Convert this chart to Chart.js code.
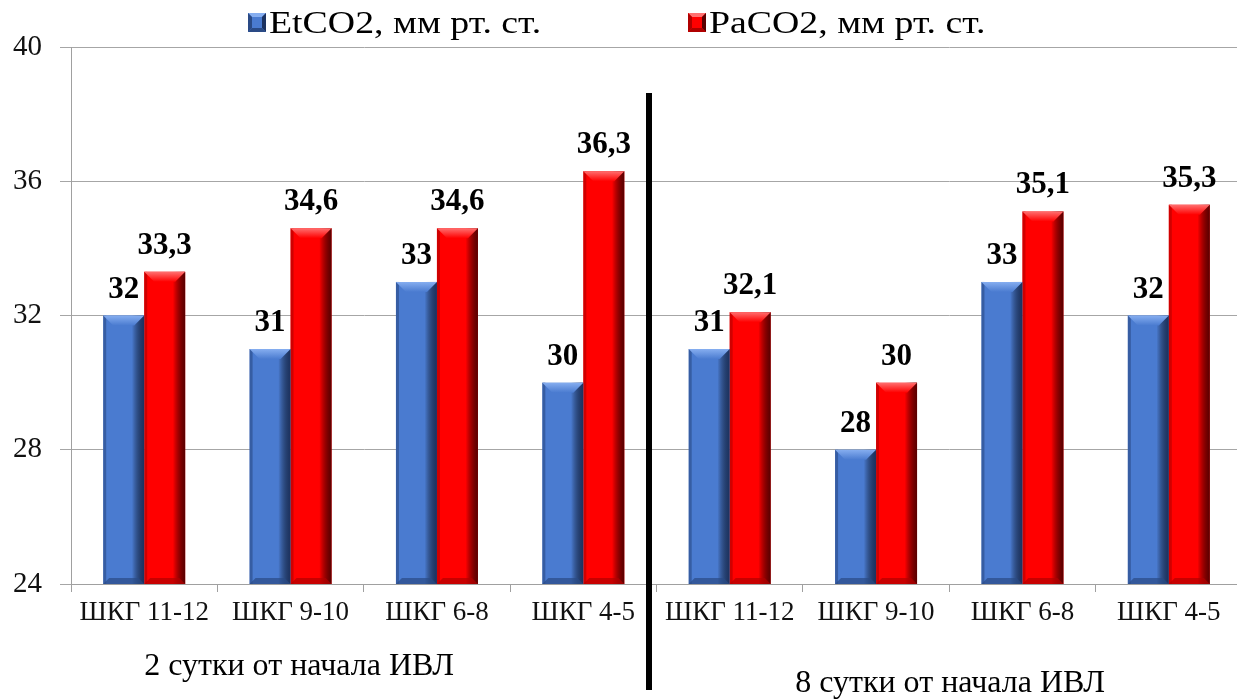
<!DOCTYPE html>
<html>
<head>
<meta charset="utf-8">
<script src="https://cdn.jsdelivr.net/npm/chart.js@4"></script>
<style>
  html, body { margin: 0; padding: 0; background: #fff; overflow: hidden; }
  #wrap { width: 1242px; height: 699px; }
</style>
</head>
<body>
<div id="wrap"><canvas id="c" width="1242" height="699"></canvas></div>
<script>
const categories = ['ШКГ 11-12', 'ШКГ 9-10', 'ШКГ 6-8', 'ШКГ 4-5', 'ШКГ 11-12', 'ШКГ 9-10', 'ШКГ 6-8', 'ШКГ 4-5'];
const etco2 = [32, 31, 33, 30, 31, 28, 33, 32];
const paco2 = [33.3, 34.6, 34.6, 36.3, 32.1, 30, 35.1, 35.3];
const seriesNames = ['EtCO2, мм рт. ст.', 'PaCO2, мм рт. ст.'];
const groupLabels = ['2 сутки от начала ИВЛ', '8 сутки от начала ИВЛ'];
const yMin = 24, yMax = 40, yStep = 4;

const SERIF = '"Liberation Serif", "Times New Roman", serif';
const styles = [
  { face: '#4a7bd0', light: '#86aef0', dark: '#1c3260', edge: '#2a4a85' },
  { face: '#ff0000', light: '#ff7070', dark: '#5a0000', edge: '#b00000' }
];

const bevelPlugin = {
  id: 'bevel',
  afterDatasetsDraw(chart) {
    const ctx = chart.ctx;
    const bottom = chart.chartArea.bottom;
    chart.data.datasets.forEach((ds, di) => {
      const st = styles[di];
      chart.getDatasetMeta(di).data.forEach(bar => {
        const w = bar.width, l = bar.x - w / 2, r = bar.x + w / 2, t = bar.y, b = Math.min(bar.base, bottom);
        ctx.save();
        const gR = ctx.createLinearGradient(r - w * 0.3, 0, r, 0);
        gR.addColorStop(0, 'rgba(0,0,0,0)');
        gR.addColorStop(1, st.dark);
        ctx.fillStyle = gR;
        ctx.fillRect(r - w * 0.3, t, w * 0.3, b - t);
        ctx.fillStyle = st.edge;
        ctx.globalAlpha = 0.6;
        ctx.fillRect(l, t, 3, b - t);
        ctx.globalAlpha = 1;
        const bv = Math.min(10, (b - t) / 3);
        const gT = ctx.createLinearGradient(0, t, 0, t + bv);
        gT.addColorStop(0, st.light);
        gT.addColorStop(1, st.face);
        ctx.fillStyle = gT;
        ctx.beginPath();
        ctx.moveTo(l, t); ctx.lineTo(r, t); ctx.lineTo(r - bv, t + bv); ctx.lineTo(l + bv, t + bv); ctx.closePath();
        ctx.fill();
        ctx.fillStyle = st.edge;
        ctx.globalAlpha = 0.7;
        ctx.beginPath();
        ctx.moveTo(l, b); ctx.lineTo(r, b); ctx.lineTo(r - 6, b - 6); ctx.lineTo(l + 6, b - 6); ctx.closePath();
        ctx.fill();
        ctx.restore();
      });
    });
  }
};

const labelPlugin = {
  id: 'valueLabels',
  afterDatasetsDraw(chart) {
    const ctx = chart.ctx;
    ctx.save();
    ctx.font = 'bold 31px ' + SERIF;
    ctx.fillStyle = '#000';
    ctx.textAlign = 'center';
    ctx.textBaseline = 'alphabetic';
    chart.data.datasets.forEach((ds, di) => {
      chart.getDatasetMeta(di).data.forEach((bar, i) => {
        const txt = String(ds.data[i]).replace('.', ',');
        ctx.fillText(txt, bar.x, bar.y - 18);
      });
    });
    ctx.restore();
  }
};

function legendBox(ctx, x, y, w, h, st) {
  ctx.fillStyle = st.face;
  ctx.fillRect(x, y, w, h);
  const b = 4;
  ctx.fillStyle = st.light;
  ctx.beginPath(); ctx.moveTo(x, y); ctx.lineTo(x + w, y); ctx.lineTo(x + w - b, y + b); ctx.lineTo(x + b, y + b); ctx.closePath(); ctx.fill();
  ctx.fillStyle = st.dark;
  ctx.beginPath(); ctx.moveTo(x + w, y); ctx.lineTo(x + w, y + h); ctx.lineTo(x + w - b, y + h - b); ctx.lineTo(x + w - b, y + b); ctx.closePath(); ctx.fill();
  ctx.fillStyle = st.edge;
  ctx.beginPath(); ctx.moveTo(x, y + h); ctx.lineTo(x + w, y + h); ctx.lineTo(x + w - b, y + h - b); ctx.lineTo(x + b, y + h - b); ctx.closePath(); ctx.fill();
  ctx.beginPath(); ctx.moveTo(x, y); ctx.lineTo(x + b, y + b); ctx.lineTo(x + b, y + h - b); ctx.lineTo(x, y + h); ctx.closePath(); ctx.fill();
}

const decorPlugin = {
  id: 'decor',
  afterDraw(chart) {
    const ctx = chart.ctx;
    ctx.save();
    const legendItems = [{ x: 248, name: seriesNames[0], st: styles[0] }, { x: 688, name: seriesNames[1], st: styles[1] }];
    legendItems.forEach(it => {
      legendBox(ctx, it.x, 13, 18, 19, it.st);
      ctx.save();
      ctx.font = '31px ' + SERIF;
      ctx.fillStyle = '#000';
      ctx.textAlign = 'left';
      ctx.textBaseline = 'alphabetic';
      ctx.translate(it.x + 21, 33);
      ctx.scale(1.22, 1);
      ctx.fillText(it.name, 0, 0);
      ctx.restore();
    });
    ctx.fillStyle = '#000';
    ctx.fillRect(646, 93, 6, 597);
    ctx.font = '32px ' + SERIF;
    ctx.textAlign = 'center';
    ctx.textBaseline = 'middle';
    ctx.fillText(groupLabels[0], 299, 667);
    ctx.fillText(groupLabels[1], 950, 684);
    ctx.restore();
  }
};

function build() {
  new Chart(document.getElementById('c'), {
    type: 'bar',
    data: {
      labels: categories,
      datasets: [
        { label: seriesNames[0], data: etco2, backgroundColor: styles[0].face, borderWidth: 0 },
        { label: seriesNames[1], data: paco2, backgroundColor: styles[1].face, borderWidth: 0 }
      ]
    },
    options: {
      responsive: false,
      animation: false,
      devicePixelRatio: 1,
      categoryPercentage: 0.56,
      barPercentage: 1,
      layout: { padding: { top: 47, left: 0, right: 0, bottom: 0 } },
      plugins: { legend: { display: false }, tooltip: { enabled: false }, title: { display: false } },
      scales: {
        x: {
          afterFit(scale) { scale.height = 115; },
          grid: { drawOnChartArea: false, drawTicks: true, tickLength: 8, color: '#a0a0a0', offset: true },
          border: { color: '#a0a0a0', width: 1 },
          ticks: { color: '#111', font: { family: SERIF, size: 27 }, padding: 5, maxRotation: 0, autoSkip: false }
        },
        y: {
          min: yMin, max: yMax,
          afterFit(scale) { scale.width = 71; },
          grid: { color: '#a6a6a6', lineWidth: 1, tickLength: 11 },
          border: { color: '#a0a0a0', width: 1 },
          ticks: { stepSize: yStep, color: '#111', font: { family: SERIF, size: 29 }, padding: 18 }
        }
      }
    },
    plugins: [bevelPlugin, labelPlugin, decorPlugin]
  });
}

const fontLoads = ['27px', '31px', '32px', 'bold 31px'].map(s => document.fonts.load(s + ' "Liberation Serif"', 'ШКГ EtCO2'));
Promise.all(fontLoads).then(build, build);
</script>
</body>
</html>
